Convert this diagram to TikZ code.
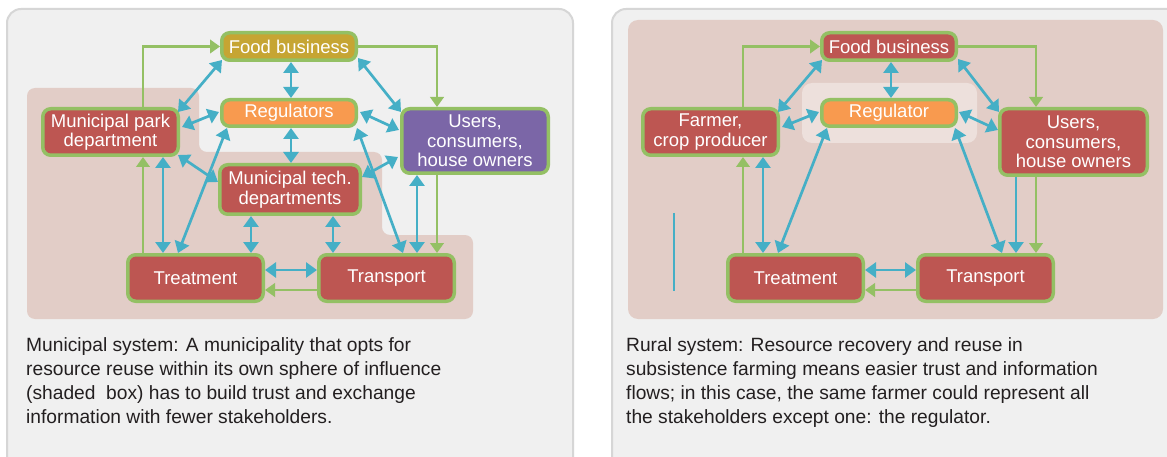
\documentclass[tikz,border=0pt]{standalone}
\usepackage{fontspec}
\setmainfont{Liberation Sans}
\usetikzlibrary{arrows.meta}
\definecolor{nred}{HTML}{BD5652}
\definecolor{ngreen}{HTML}{94C064}
\definecolor{norange}{HTML}{F89A4F}
\definecolor{npurple}{HTML}{7B66A7}
\definecolor{ngold}{HTML}{C6A533}
\definecolor{nblue}{HTML}{45AFC6}
\definecolor{npink}{HTML}{E2CDC7}
\definecolor{nlight}{HTML}{EDE0DC}
\definecolor{panelbg}{HTML}{F0F0F0}
\definecolor{panelline}{HTML}{D6D6D6}
\definecolor{captext}{HTML}{231F20}
\begin{document}
\begin{tikzpicture}[x=1pt,y=-1pt,
  box/.style={draw=ngreen, line width=3.5pt, rounded corners=8pt, text=white,
    font=\fontsize{18.5}{19.5}\selectfont, align=center, inner sep=0pt},
  barrow/.style={draw=nblue, line width=2.7pt, {Triangle[length=11pt,width=15pt]}-{Triangle[length=11pt,width=15pt]}},
  bsingle/.style={draw=nblue, line width=2.7pt, -{Triangle[length=11pt,width=15pt]}},
  garrow/.style={draw=ngreen, line width=2.5pt, -{Triangle[length=10pt,width=13.5pt]}},
  caption/.style={anchor=base west, align=left, inner sep=0pt, text=captext,
    font=\fontsize{19.2}{24}\selectfont},
]
\useasboundingbox (0,0) rectangle (1167,457);
\clip (0,0) rectangle (1167,457);
\fill[white] (0,0) rectangle (1167,457);
% panels
\filldraw[fill=panelbg, draw=panelline, line width=2pt, rounded corners=14pt] (7,9) rectangle (573,475);
\filldraw[fill=panelbg, draw=panelline, line width=2pt, rounded corners=14pt] (612,9) rectangle (1190,475);
% shaded regions
\fill[npink, rounded corners=8pt] (27,88) -- (199,88) -- (199,152) -- (382,152) -- (382,235) -- (473,235) -- (473,319) -- (27,319) -- cycle;
\fill[npink, rounded corners=10pt] (628,20) rectangle (1163,319);
\fill[nlight, rounded corners=10pt] (802,83) rectangle (977,143);
\draw[nblue, line width=2.7pt] (674,213) -- (674,291);

% ---------- left nodes
\node[box, fill=ngold, minimum width=134.5pt, minimum height=27.5pt] (fbL) at (289,46.5) {Food business};
\node[box, fill=norange, minimum width=134.5pt, minimum height=26.5pt] (regL) at (289,113) {Regulators};
\node[box, fill=nred, minimum width=135.5pt, minimum height=46.5pt] (parkL) at (110.5,132) {Municipal park\\department};
\node[box, fill=nred, minimum width=140.5pt, minimum height=49.5pt] (techL) at (290,189.5) {Municipal tech.\\departments};
\node[box, fill=npurple, minimum width=146.5pt, minimum height=64.5pt] (usersL) at (475,141) {Users,\\consumers,\\house owners};
\node[box, fill=nred, minimum width=135.5pt, minimum height=46.5pt] (treatL) at (195.5,278) {Treatment};
\node[box, fill=nred, minimum width=135.5pt, minimum height=46.5pt] (transL) at (386.5,278) {Transport};

% ---------- left connectors
\draw[garrow] ([xshift=32.5pt]parkL.north) |- (fbL.west);
\draw[garrow] (fbL.east) -| ([xshift=-38pt]usersL.north);
\draw[garrow] ([xshift=-38pt]usersL.south) -- ([xshift=50.5pt]transL.north);
\draw[garrow] ([yshift=-12pt]transL.west) -- ([yshift=-12pt]treatL.east);
\draw[garrow] ([xshift=-52.5pt]treatL.north) -- ([xshift=32.5pt]parkL.south);

\draw[barrow] ([xshift=-67pt,yshift=-13.5pt]fbL.center) -- ([xshift=67.5pt,yshift=20pt]parkL.center);
\draw[barrow] ([xshift=71.5pt,yshift=5pt]parkL.center) -- ([xshift=-70pt,yshift=1pt]regL.center);
\draw[barrow] ([xshift=67.5pt,yshift=-23pt]parkL.center) -- ([xshift=-72pt,yshift=7.5pt]techL.center);
\draw[barrow] ([xshift=2pt]fbL.south) -- ([xshift=2pt]regL.north);
\draw[barrow] ([xshift=2pt]regL.south) -- ([xshift=1pt]techL.north);
\draw[barrow] ([xshift=69pt,yshift=-11.5pt]fbL.center) -- ([xshift=-74pt,yshift=29pt]usersL.center);
\draw[barrow] ([xshift=71pt,yshift=1pt]regL.center) -- ([xshift=-76pt,yshift=11pt]usersL.center);
\draw[barrow] ([xshift=72pt,yshift=12.5pt]techL.center) -- ([xshift=-77pt,yshift=-16pt]usersL.center);
\draw[barrow] ([xshift=52.5pt]parkL.south) -- ([xshift=-32.5pt]treatL.north);
\draw[barrow] ([xshift=-17.5pt]treatL.north) -- ([xshift=-62pt]regL.south);
\draw[barrow] ([xshift=-39pt]techL.south) -- ([xshift=55.5pt]treatL.north);
\draw[barrow] ([xshift=43pt]techL.south) -- ([xshift=-53.5pt]transL.north);
\draw[barrow] ([xshift=68pt]regL.south) -- ([xshift=16.5pt]transL.north);
\draw[barrow] ([xshift=-58pt]usersL.south) -- ([xshift=30.5pt]transL.north);
\draw[barrow] ([yshift=8pt]treatL.east) -- ([yshift=8pt]transL.west);

% ---------- right nodes
\node[box, fill=nred, minimum width=134.5pt, minimum height=27.5pt] (fbR) at (889,46.5) {Food business};
\node[box, fill=norange, minimum width=134.5pt, minimum height=26.5pt] (regR) at (889,113) {Regulator};
\node[box, fill=nred, minimum width=135.5pt, minimum height=46.5pt] (farmR) at (710.5,132) {Farmer,\\crop producer};
\node[box, fill=nred, minimum width=147.5pt, minimum height=66.5pt] (usersR) at (1073.5,142) {Users,\\consumers,\\house owners};
\node[box, fill=nred, minimum width=135.5pt, minimum height=46.5pt] (treatR) at (795.5,278) {Treatment};
\node[box, fill=nred, minimum width=135.5pt, minimum height=46.5pt] (transR) at (985.5,278) {Transport};

% ---------- right connectors
\draw[garrow] ([xshift=32.5pt]farmR.north) |- (fbR.west);
\draw[garrow] (fbR.east) -| ([xshift=-37.5pt]usersR.north);
\draw[garrow] ([xshift=-37.5pt]usersR.south) -- ([xshift=50.5pt]transR.north);
\draw[garrow] ([yshift=-12pt]transR.west) -- ([yshift=-12pt]treatR.east);
\draw[garrow] ([xshift=-52.5pt]treatR.north) -- ([xshift=32.5pt]farmR.south);

\draw[barrow] ([xshift=-67pt,yshift=-13.5pt]fbR.center) -- ([xshift=67.5pt,yshift=20pt]farmR.center);
\draw[barrow] ([xshift=71.5pt,yshift=5pt]farmR.center) -- ([xshift=-70pt,yshift=1pt]regR.center);
\draw[barrow] ([xshift=2pt]fbR.south) -- ([xshift=2pt]regR.north);
\draw[barrow] ([xshift=69pt,yshift=-12.5pt]fbR.center) -- ([xshift=-74.5pt,yshift=30pt]usersR.center);
\draw[barrow] ([xshift=70pt,yshift=1pt]regR.center) -- ([xshift=-75.5pt,yshift=12pt]usersR.center);
\draw[barrow] ([xshift=52.5pt]farmR.south) -- ([xshift=-32.5pt]treatR.north);
\draw[barrow] ([xshift=-17.5pt]treatR.north) -- ([xshift=-62pt]regR.south);
\draw[barrow] ([xshift=66pt]regR.south) -- ([xshift=16.5pt]transR.north);
\draw[bsingle] ([xshift=-57.5pt]usersR.south) -- ([xshift=30.5pt]transR.north);
\draw[barrow] ([yshift=8pt]treatR.east) -- ([yshift=8pt]transR.west);

% ---------- captions (base anchor = baseline of last line)
\node[caption] (capL) at (26,423) {Municipal system: A municipality that opts for\\resource reuse within its own sphere of influence\\(shaded\ \ box) has to build trust and exchange\\information with fewer stakeholders.};
\node[caption] (capR) at (626,423) {Rural system: Resource recovery and reuse in\\subsistence farming means easier trust and information\\flows; in this case, the same farmer could represent all\\the stakeholders except one: the regulator.};
\end{tikzpicture}
\end{document}
